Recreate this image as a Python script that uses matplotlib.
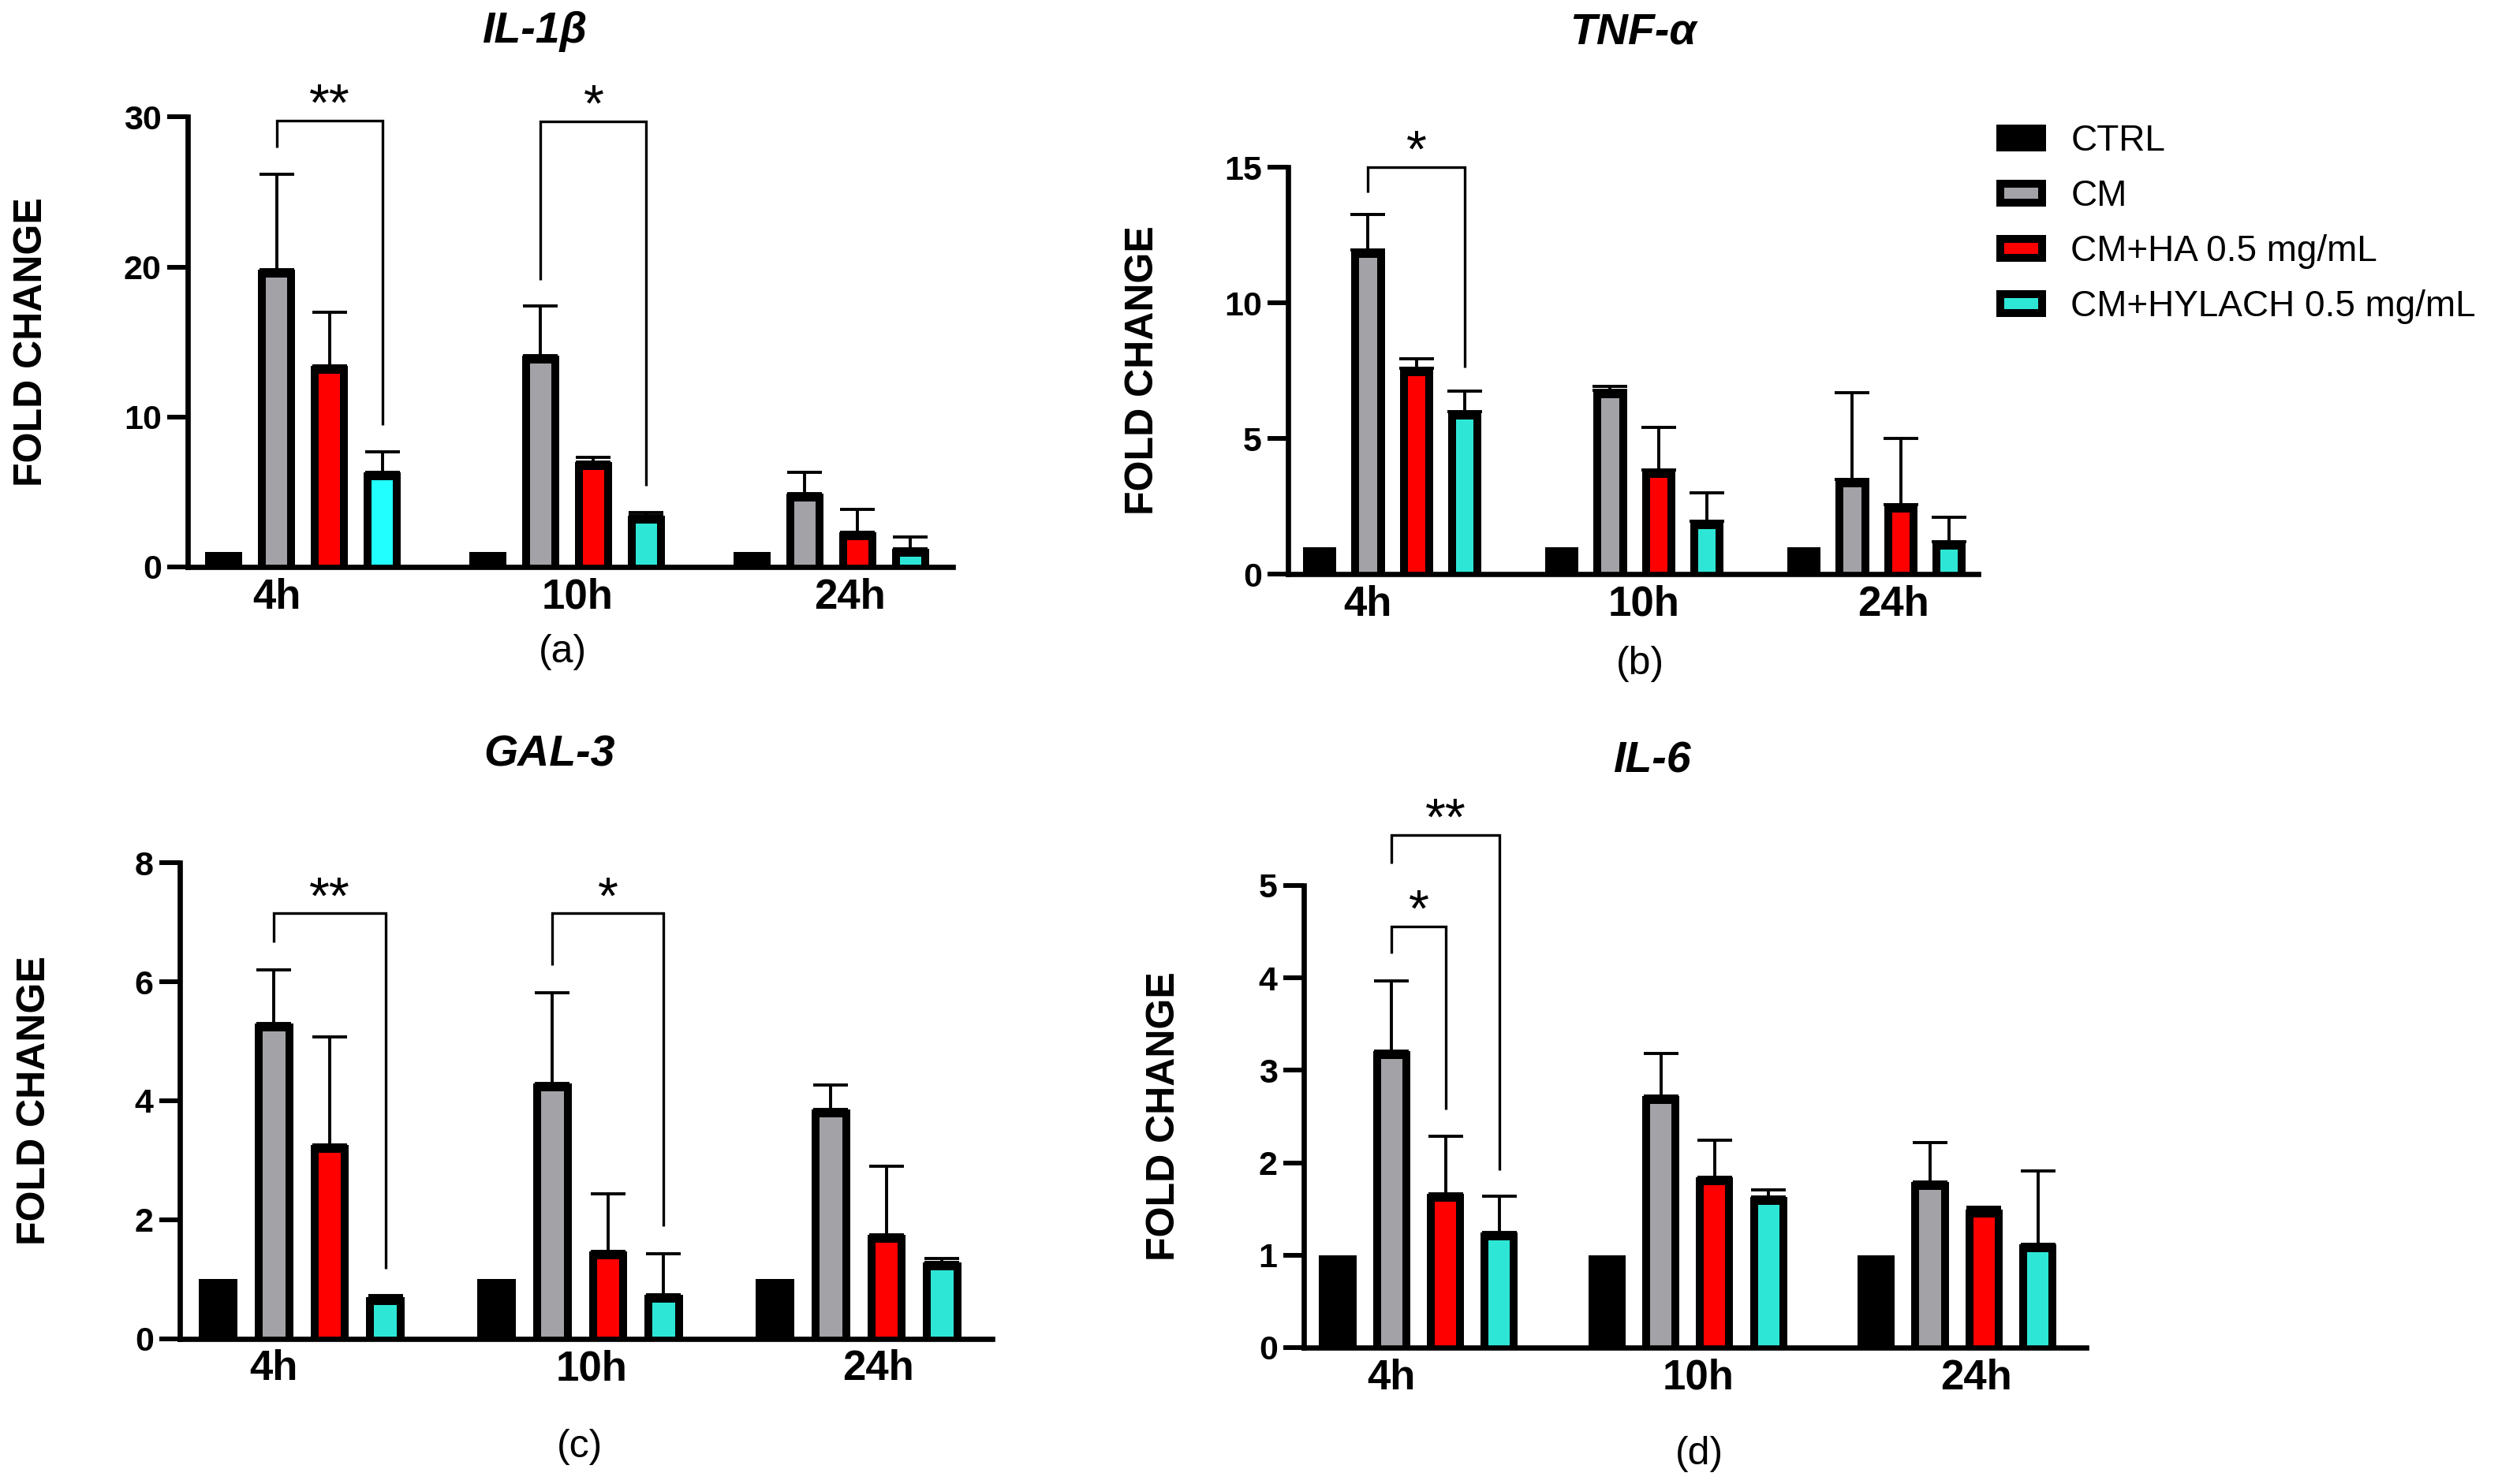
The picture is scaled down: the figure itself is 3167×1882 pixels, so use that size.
import numpy as np
import matplotlib
matplotlib.use('Agg')
import matplotlib.pyplot as plt
from matplotlib.patches import Patch, Rectangle

plt.rcParams['font.family'] = ['Liberation Sans', 'DejaVu Sans']

W, H = 3167, 1882

times = ['4h', '10h', '24h']
groups = ['CTRL', 'CM', 'CM+HA 0.5 mg/mL', 'CM+HYLACH 0.5 mg/mL']
colors = ['#000000', '#A3A2A7', '#FF0000', '#2EE6D6']

# IL-1beta
il1b_ctrl = [1, 1, 1]
il1b_cm = [19.8, 14.1, 4.9]
il1b_cm_sd = [6.4, 3.3, 1.4]
il1b_ha = [13.4, 7.0, 2.3]
il1b_ha_sd = [3.6, 0.3, 1.55]
il1b_hy = [6.3, 3.4, 1.2]
il1b_hy_sd = [1.35, 0.25, 0.8]

# TNF-alpha
tnf_ctrl = [1, 1, 1]
tnf_cm = [11.96, 6.76, 3.49]
tnf_cm_sd = [1.29, 0.16, 3.21]
tnf_ha = [7.59, 3.83, 2.55]
tnf_ha_sd = [0.35, 1.59, 2.44]
tnf_hy = [5.99, 1.96, 1.20]
tnf_hy_sd = [0.75, 1.04, 0.90]

# GAL-3
gal3_ctrl = [1, 1, 1]
gal3_cm = [5.30, 4.29, 3.85]
gal3_cm_sd = [0.90, 1.53, 0.42]
gal3_ha = [3.26, 1.46, 1.74]
gal3_ha_sd = [1.81, 0.97, 1.16]
gal3_hy = [0.69, 0.73, 1.28]
gal3_hy_sd = [0.03, 0.69, 0.07]

# IL-6
il6_ctrl = [1, 1, 1]
il6_cm = [3.21, 2.72, 1.79]
il6_cm_sd = [0.76, 0.46, 0.43]
il6_ha = [1.66, 1.84, 1.49]
il6_ha_sd = [0.63, 0.40, 0.03]
il6_hy = [1.25, 1.63, 1.12]
il6_hy_sd = [0.39, 0.08, 0.79]

# significance brackets: (bar1, bar2, top, left end, right end, label)
il1b_sig = [(1, 3, 29.77, 27.95, 9.46, '**'), (6, 8, 29.7, 19.15, 5.4, '*')]
tnf_sig = [(1, 3, 15.0, 14.08, 7.62, '*')]
gal3_sig = [(1, 3, 7.15, 6.67, 1.18, '**'), (6, 8, 7.15, 6.28, 1.89, '*')]
il6_sig = [(1, 2, 4.56, 4.27, 2.58, '*'), (1, 3, 5.55, 5.24, 1.92, '**')]

panels = [
    dict(title='IL-1β', tag='(a)', rect=(238, 1208, 719, 148.3), ymax=30, yticks=[0, 10, 20, 30],
         xlim=(-0.68, 13.8), means=[il1b_ctrl, il1b_cm, il1b_ha, il1b_hy],
         sds=[None, il1b_cm_sd, il1b_ha_sd, il1b_hy_sd], sig=il1b_sig,
         title_xy=(678, 40), tag_xy=(713, 827), ylab_x=63, special={(3, 0): '#22FFFF'}),
    dict(title='TNF-α', tag='(b)', rect=(1633, 2508, 728, 212), ymax=15, yticks=[0, 5, 10, 15],
         xlim=(-0.65, 13.6), means=[tnf_ctrl, tnf_cm, tnf_ha, tnf_hy],
         sds=[None, tnf_cm_sd, tnf_ha_sd, tnf_hy_sd], sig=tnf_sig,
         title_xy=(2070, 41), tag_xy=(2079, 842), ylab_x=1472, special={}),
    dict(title='GAL-3', tag='(c)', rect=(228, 1258, 1697.5, 1094.3), ymax=8, yticks=[0, 2, 4, 6, 8],
         xlim=(-0.69, 13.9), means=[gal3_ctrl, gal3_cm, gal3_ha, gal3_hy],
         sds=[None, gal3_cm_sd, gal3_ha_sd, gal3_hy_sd], sig=gal3_sig,
         title_xy=(697, 958), tag_xy=(735, 1835), ylab_x=67, special={}),
    dict(title='IL-6', tag='(d)', rect=(1653, 2645, 1709, 1123), ymax=5, yticks=[0, 1, 2, 3, 4, 5],
         xlim=(-0.63, 13.9), means=[il6_ctrl, il6_cm, il6_ha, il6_hy],
         sds=[None, il6_cm_sd, il6_ha_sd, il6_hy_sd], sig=il6_sig,
         title_xy=(2094, 966), tag_xy=(2154, 1844), ylab_x=1499, special={}),
]

label_pos = [1.0, 6.7, 11.85]
bar_w = 0.69

fig = plt.figure(figsize=(W / 100, H / 100), dpi=100)

for p in panels:
    x0, x1, y0, y1 = p['rect']
    ax = fig.add_axes([x0 / W, 1 - y0 / H, (x1 - x0) / W, (y0 - y1) / H])
    pad = p['ymax'] * 0.1
    for g in range(4):
        xs = np.arange(3) * 5 + g
        for t, (x, h) in enumerate(zip(xs, p['means'][g])):
            c = p['special'].get((g, t), colors[g])
            bar = ax.bar(x, h + pad, bottom=-pad, width=bar_w, color=c,
                         edgecolor='black', linewidth=14.4, zorder=2)[0]
            # keep only the inner half of the outline, like GraphPad
            bar.set_clip_path(Rectangle((x - bar_w / 2, 0), bar_w, h, transform=ax.transData))
        if p['sds'][g] is not None:
            ax.errorbar(xs, p['means'][g], yerr=[np.zeros(3), p['sds'][g]], fmt='none',
                        ecolor='black', elinewidth=2.8, capsize=16, capthick=2.8, zorder=3)

    for b1, b2, top, yl, yr, lab in p['sig']:
        ax.plot([b1, b1, b2, b2], [yl, top, top, yr], color='black', lw=2.4,
                clip_on=False, solid_capstyle='butt', solid_joinstyle='miter', zorder=4)
        ax.text((b1 + b2) / 2, top, lab, ha='center', va='baseline', fontsize=48,
                clip_on=False)

    ax.set_xlim(*p['xlim'])
    ax.set_ylim(0, p['ymax'])
    ax.spines['top'].set_visible(False)
    ax.spines['right'].set_visible(False)
    ax.spines['left'].set_linewidth(4.8)
    ax.spines['bottom'].set_linewidth(4.8)
    ax.set_yticks(p['yticks'])
    ax.set_yticklabels([str(t) for t in p['yticks']], fontsize=31, fontweight='bold')
    ax.tick_params(axis='y', direction='out', length=19, width=4.3, pad=5)
    ax.set_xticks(label_pos)
    ax.set_xticklabels(times, fontsize=38, fontweight='bold')
    ax.tick_params(axis='x', length=0, pad=10)
    ax.set_ylabel('FOLD CHANGE', fontsize=36, fontweight='bold')
    ax.yaxis.set_label_coords((p['ylab_x'] - x0) / (x1 - x0), 0.5)

    fig.text(p['title_xy'][0] / W, 1 - p['title_xy'][1] / H, p['title'], ha='center', va='center',
             fontsize=40, fontweight='bold', fontstyle='italic')
    fig.text(p['tag_xy'][0] / W, 1 - p['tag_xy'][1] / H, p['tag'], ha='center', va='center',
             fontsize=36)

handles = [Patch(facecolor=c, edgecolor='black', linewidth=7.2) for c in colors]
fig.legend(handles, groups, loc='upper left', bbox_to_anchor=(2536 / W, 1 - 157 / H),
           frameon=False, fontsize=33, handlelength=1.15, handleheight=0.42,
           handletextpad=0.8, labelspacing=0.57, borderpad=0, borderaxespad=0)

fig.savefig('out.png', dpi=100)
